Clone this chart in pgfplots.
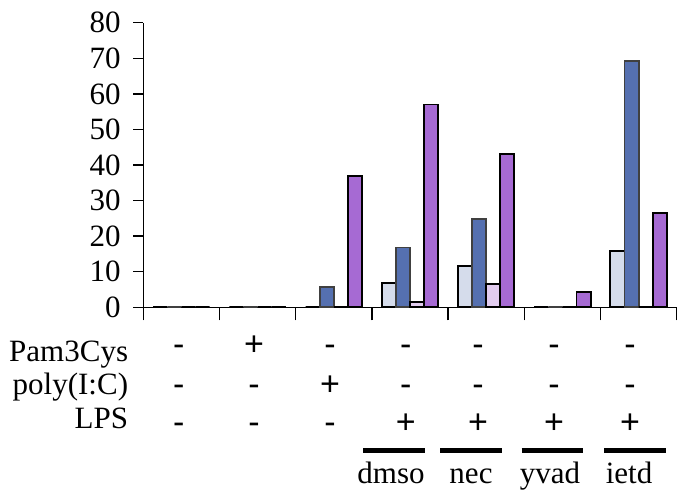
\documentclass[border=0pt]{standalone}
\usepackage{pgfplots}
\pgfplotsset{compat=1.18}
\usepackage{fontspec}
\setmainfont{Liberation Serif}
\newfontfamily\signfont{Liberation Sans}
\definecolor{cLight}{HTML}{D5DCEB}
\definecolor{cBlue}{HTML}{5570B0}
\definecolor{cPink}{HTML}{E2CCEF}
\definecolor{cPurple}{HTML}{A66AD3}
\definecolor{cEdgeBlue}{HTML}{404040}
\begin{document}
\fontsize{31}{37}\selectfont
\begin{tikzpicture}
\useasboundingbox (0pt,0pt) rectangle (690pt,495pt);
\begin{axis}[
  at={(143.3pt,187.7pt)}, anchor=south west,
  width=533.4pt, height=284.6pt, scale only axis,
  xmin=-0.5, xmax=6.5, ymin=0, ymax=80,
  ytick={0,10,20,30,40,50,60,70,80},
  xtick={-0.5,0.5,1.5,2.5,3.5,4.5,5.5,6.5},
  xticklabels={},
  axis x line=bottom, axis y line=left,
  axis line style={-, line width=1.4pt, black},
  tick align=outside,
  xtick style={/pgfplots/major tick length=13pt, line width=1.4pt, black},
  ytick style={/pgfplots/major tick length=10pt, line width=1.4pt, black},
  /pgf/number format/assume math mode=true,
  yticklabel style={font=\fontsize{31}{37}\selectfont, inner sep=0pt, anchor=east, xshift=-18.3pt},
  ybar=0pt, bar width=14.1pt,
  clip=false,
]
\addplot[fill=cLight, draw=black, line width=1.9pt] coordinates {(0,0) (1,0) (2,0) (3,6.8) (4,11.7) (5,0) (6,15.8)};
\addplot[fill=cBlue, draw=cEdgeBlue, line width=1.9pt] coordinates {(0,0) (1,0) (2,5.7) (3,16.8) (4,24.9) (5,0) (6,69.2)};
\addplot[fill=cPink, draw=black, line width=1.9pt] coordinates {(0,0) (1,0) (2,0) (3,1.4) (4,6.5) (5,0) (6,0)};
\addplot[fill=cPurple, draw=black, line width=1.9pt] coordinates {(0,0) (1,0) (2,36.8) (3,57.0) (4,43.1) (5,4.4) (6,26.6)};
\end{axis}
% row labels
\node[anchor=base east, inner sep=0pt] at (128.3pt,133.3pt) {Pam3Cys};
\node[anchor=base east, inner sep=0pt] at (128.3pt,100pt) {poly(I:C)};
\node[anchor=base east, inner sep=0pt] at (128.3pt,66.7pt) {LPS};
% signs
\begin{scope}[every node/.style={anchor=base, inner sep=0pt, font=\signfont\fontsize{34}{40}\selectfont}]
\foreach \x/\s in {178.7/-, 254/+, 330/-, 405.7/-, 478/-, 554/-, 630/-}
  \node at (\x pt,139.2pt) {\s};
\foreach \x/\s in {178.7/-, 254/-, 330/+, 405.7/-, 478/-, 554/-, 630/-}
  \node at (\x pt,99.8pt) {\s};
\foreach \x/\s in {178.7/-, 254/-, 330/-, 405.7/+, 478/+, 554/+, 630/+}
  \node at (\x pt,61.9pt) {\s};
\end{scope}
% underlines
\foreach \a/\b in {363.3/425, 440/501.7, 521.7/583.3, 604/666}
  \draw[line width=4.5pt, black] (\a pt,44.3pt) -- (\b pt,44.3pt);
% inhibitor labels
\node[anchor=base, inner sep=0pt] at (391pt,11.7pt) {dmso};
\node[anchor=base, inner sep=0pt] at (471pt,11.7pt) {nec};
\node[anchor=base, inner sep=0pt] at (550pt,11.7pt) {yvad};
\node[anchor=base, inner sep=0pt] at (629pt,11.7pt) {ietd};
\end{tikzpicture}
\end{document}
